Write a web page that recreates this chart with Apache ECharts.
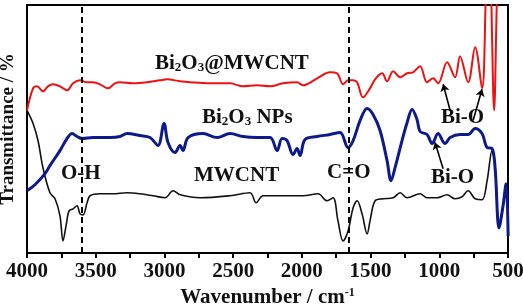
<!DOCTYPE html>
<html>
<head>
<meta charset="utf-8">
<script src="https://cdn.jsdelivr.net/npm/echarts@6/dist/echarts.min.js"></script>
<style>
  html, body { margin: 0; padding: 0; background: #fff; }
  #chart { width: 523px; height: 307px; }
</style>
</head>
<body>
<div id="chart"></div>
<script>
// wavenumber (cm-1), transmittance (a.u., curves are offset)
var bi2o3Mwcnt = [
  [4000,142],[3956,164],[3927,166],[3884,161],[3847,166],[3811,168],[3760,166],[3709,162],
  [3665,169],[3614,172],[3563,170],[3520,170],[3469,168],[3410,164],[3360,169],[3323,170],
  [3229,169],[3127,170],[3032,172],[2981,173],[2886,171],[2814,170],[2668,169],[2523,169],
  [2428,166],[2326,167],[2231,166],[2137,169],[2035,170],[1991,167],[1889,174],[1795,180],
  [1744,179],[1700,168],[1664,172],[1627,172],[1598,170],[1555,155],[1504,164],[1467,173],
  [1416,179],[1380,171],[1336,181],[1285,175],[1234,179],[1191,180],[1140,186],[1089,170],
  [1045,174],[1009,169],[943,190],[885,175],[849,196],[790,170],[739,205],[689,164],
  [660,262],[638,332],[623,262],[601,142],[579,262],[557,332],[499,352]
];
var bi2o3Nps = [
  [4000,62],[3942,68],[3869,79],[3833,87],[3760,102],[3709,114],[3672,119],[3636,116],
  [3600,114],[3520,115],[3396,115],[3323,116],[3272,119],[3178,117],[3105,115],[3047,107],
  [3003,129],[2974,110],[2923,100],[2886,107],[2865,102],[2828,115],[2719,119],[2617,115],
  [2523,119],[2428,116],[2326,115],[2231,115],[2180,102],[2144,114],[2108,112],[2064,98],
  [2035,104],[2013,97],[1977,113],[1889,116],[1795,118],[1722,120],[1664,105],[1627,112],
  [1576,132],[1525,144],[1482,138],[1431,122],[1380,92],[1351,72],[1322,85],[1271,112],
  [1234,130],[1198,143],[1162,133],[1140,121],[1089,118],[1052,109],[1009,119],[958,109],
  [921,115],[849,118],[790,118],[739,124],[689,119],[652,105],[616,104],[594,85],
  [565,25],[536,47],[514,69],[499,17]
];
var mwcnt = [
  [4000,142],[3956,129],[3920,112],[3884,85],[3833,60],[3796,54],[3760,37],[3738,12],
  [3716,27],[3694,42],[3665,44],[3636,47],[3614,39],[3592,38],[3563,50],[3541,57],
  [3469,59],[3374,59],[3272,60],[3178,59],[3083,57],[2996,55],[2937,62],[2886,58],
  [2741,55],[2523,57],[2377,60],[2333,50],[2282,57],[2108,57],[1991,57],[1882,59],
  [1817,52],[1773,55],[1737,32],[1700,12],[1664,22],[1627,45],[1598,52],[1562,39],
  [1525,19],[1504,32],[1467,52],[1409,54],[1336,55],[1285,60],[1234,55],[1140,59],
  [1089,55],[1016,55],[943,58],[885,54],[834,56],[790,62],[739,54],[689,53],
  [652,72],[616,102],[594,85],[565,25],[536,47],[514,69],[499,17]
];
var markerLines = [3600, 1660];
// arrows: [from, to]
var arrows = [
  [[921,142],[972,168]],
  [[754,132],[689,163]],
  [[972,84],[1031,110]]
];
var xTicks = [500, 1000, 1500, 2000, 2500, 3000, 3500, 4000];

var serif = 'Liberation Serif';
var chart = echarts.init(document.getElementById('chart'));

function txt(x, y, rich) {
  return {
    type: 'text', left: x, top: y,
    style: {
      text: rich, font: 'bold 21px "Liberation Serif"', fill: '#111',
      rich: {
        s: { fontSize: 13, fontWeight: 'bold', fontFamily: serif, padding: [9, 0, 0, 0], verticalAlign: 'bottom' }
      }
    }
  };
}

var option = {
  animation: false,
  grid: {
    left: 27, right: 15, top: 5, bottom: 54, show: true, borderColor: '#000', borderWidth: 2,
    outerBoundsMode: 'none', containLabel: false
  },
  xAxis: {
    type: 'value', inverse: true, min: 500, max: 4000, interval: 250,
    name: 'Wavenumber / cm{sup|-1}', nameLocation: 'middle', nameGap: 33,
    nameTextStyle: {
      fontFamily: serif, fontWeight: 'bold', fontSize: 21, color: '#111',
      rich: { sup: { fontFamily: serif, fontWeight: 'bold', fontSize: 12, verticalAlign: 'top', padding: [0, 0, 10, 0] } }
    },
    axisLine: { lineStyle: { color: '#000', width: 2 } },
    axisTick: { length: 5, lineStyle: { color: '#000', width: 2 } },
    axisLabel: {
      margin: 8, fontFamily: serif, fontWeight: 'bold', fontSize: 21, color: '#111',
      formatter: function (v) { return xTicks.indexOf(v) >= 0 ? String(v) : ''; }
    },
    splitLine: { show: false }
  },
  yAxis: {
    type: 'value', min: 0, max: 247,
    name: 'Transmittance / %', nameLocation: 'middle', nameGap: 9,
    nameTextStyle: { fontFamily: serif, fontWeight: 'bold', fontSize: 19, color: '#111' },
    axisLine: { show: true, lineStyle: { color: '#000', width: 2 } },
    axisTick: { show: false }, axisLabel: { show: false }, splitLine: { show: false }
  },
  series: [
    {
      type: 'line', data: mwcnt, showSymbol: false, smooth: 0.35,
      lineStyle: { color: '#111', width: 1.6 },
      markLine: {
        silent: true, symbol: ['none', 'none'], label: { show: false },
        lineStyle: { color: '#000', type: [6, 4], width: 2 },
        data: markerLines.map(function (v) { return { xAxis: v }; })
      }
    },
    {
      type: 'line', data: bi2o3Nps, showSymbol: false, smooth: 0.35,
      lineStyle: { color: '#0d1a8a', width: 3 }
    },
    {
      type: 'line', data: bi2o3Mwcnt, showSymbol: false, smooth: 0.35,
      lineStyle: { color: '#ee1111', width: 2 },
      markLine: {
        silent: true, symbol: ['none', 'arrow'], symbolSize: 7, label: { show: false },
        lineStyle: { color: '#000', type: 'solid', width: 1.6 },
        data: arrows.map(function (a) { return [{ coord: a[0] }, { coord: a[1] }]; })
      }
    }
  ],
  graphic: [
    txt(155, 53, 'Bi{s|2}O{s|3}@MWCNT'),
    txt(202, 107, 'Bi{s|2}O{s|3} NPs'),
    txt(194, 165, 'MWCNT'),
    txt(61, 163, 'O-H'),
    txt(327, 162, 'C=O'),
    txt(441, 107, 'Bi-O'),
    txt(431, 167, 'Bi-O')
  ]
};
chart.setOption(option);
</script>
</body>
</html>
